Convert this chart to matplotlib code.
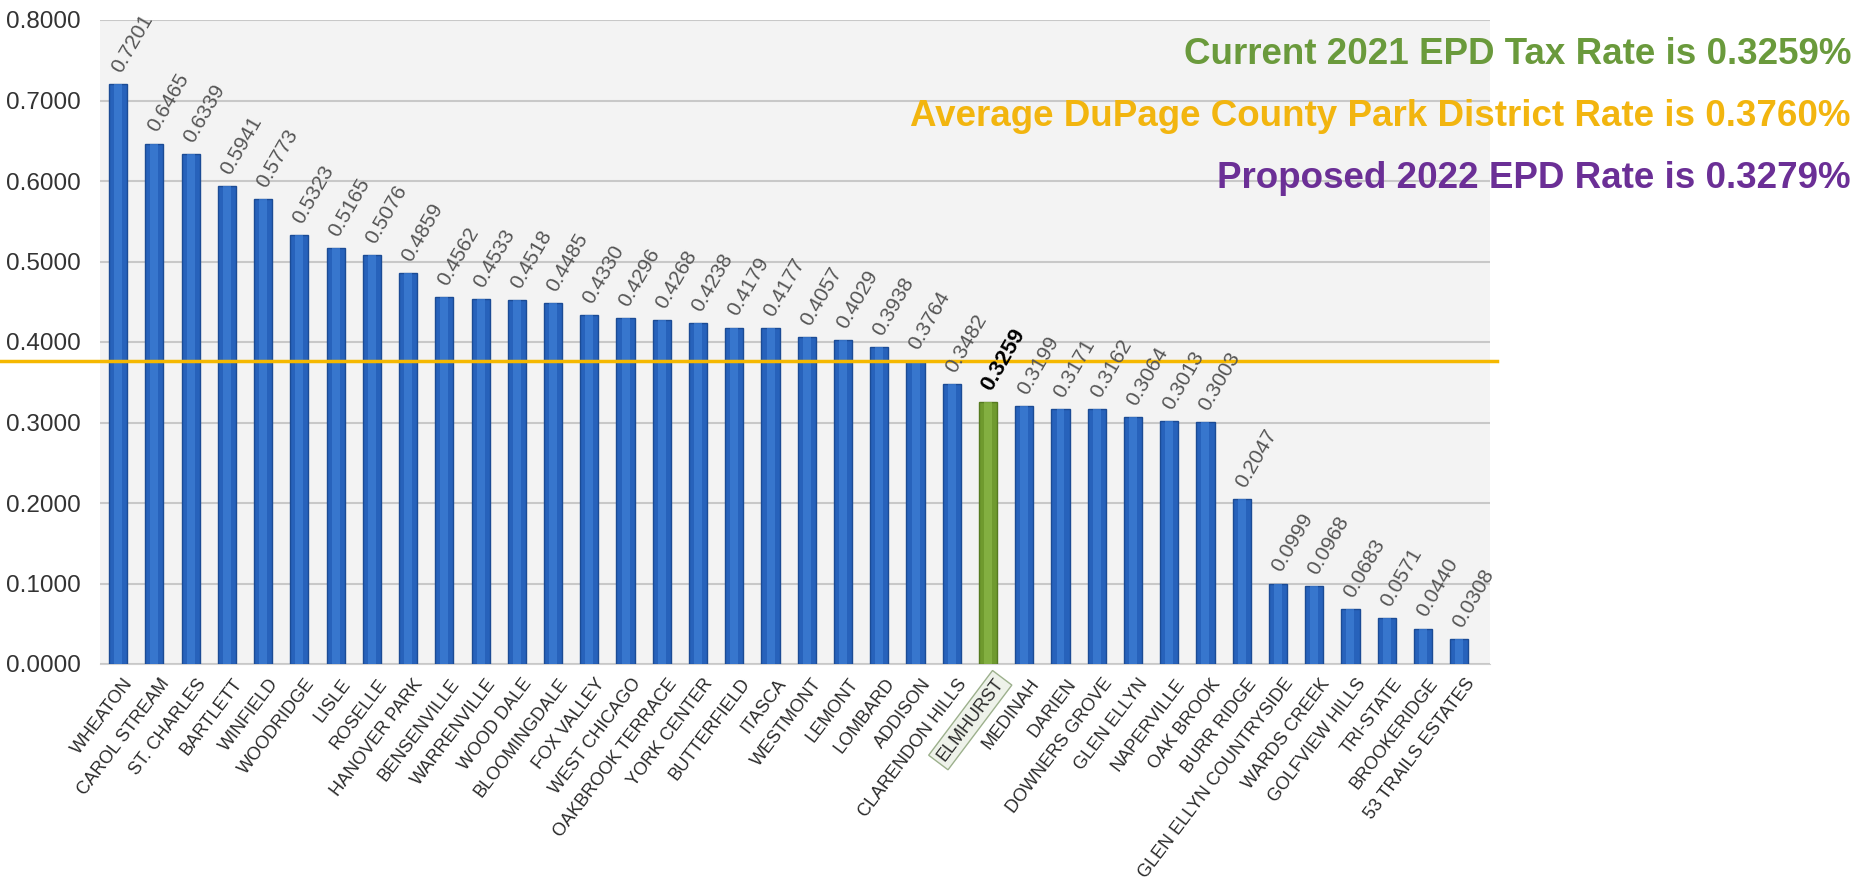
import matplotlib
matplotlib.use("Agg")
import matplotlib.pyplot as plt
import matplotlib.transforms as mtransforms

plt.rcParams['font.family'] = ['Liberation Sans', 'DejaVu Sans']

districts = ['WHEATON', 'CAROL STREAM', 'ST. CHARLES', 'BARTLETT', 'WINFIELD',
             'WOODRIDGE', 'LISLE', 'ROSELLE', 'HANOVER PARK', 'BENSENVILLE',
             'WARRENVILLE', 'WOOD DALE', 'BLOOMINGDALE', 'FOX VALLEY',
             'WEST CHICAGO', 'OAKBROOK TERRACE', 'YORK CENTER', 'BUTTERFIELD',
             'ITASCA', 'WESTMONT', 'LEMONT', 'LOMBARD', 'ADDISON',
             'CLARENDON HILLS', 'ELMHURST', 'MEDINAH', 'DARIEN', 'DOWNERS GROVE',
             'GLEN ELLYN', 'NAPERVILLE', 'OAK BROOK', 'BURR RIDGE',
             'GLEN ELLYN COUNTRYSIDE', 'WARDS CREEK', 'GOLFVIEW HILLS',
             'TRI-STATE', 'BROOKERIDGE', '53 TRAILS ESTATES']
rates = [0.7201, 0.6465, 0.6339, 0.5941, 0.5773, 0.5323, 0.5165, 0.5076,
         0.4859, 0.4562, 0.4533, 0.4518, 0.4485, 0.4330, 0.4296, 0.4268,
         0.4238, 0.4179, 0.4177, 0.4057, 0.4029, 0.3938, 0.3764, 0.3482,
         0.3259, 0.3199, 0.3171, 0.3162, 0.3064, 0.3013, 0.3003, 0.2047,
         0.0999, 0.0968, 0.0683, 0.0571, 0.0440, 0.0308]
highlight = 'ELMHURST'
county_avg = 0.3760
notes = ['Current 2021 EPD Tax Rate is 0.3259%',
         'Average DuPage County Park District Rate is 0.3760%',
         'Proposed 2022 EPD Rate is 0.3279%']
note_colors = ['#6a9a3c', '#f2b50f', '#6b2f96']

fig = plt.figure(figsize=(18.7, 8.9), dpi=100)
ax = fig.add_axes([100/1870, 226/890, 1390/1870, 644/890])
ax.set_facecolor('#f3f3f3')

x = list(range(len(districts)))
cols = ['#6f9a2e' if d == highlight else '#2762bb' for d in districts]
edges = ['#557a20' if d == highlight else '#1b4b95' for d in districts]
shine = ['#8cb84a' if d == highlight else '#3f7fd6' for d in districts]
ax.bar(x, rates, width=0.5, color=cols, edgecolor=edges, linewidth=1, zorder=3)
# lighter stripe down the middle to fake the rounded 3D look
ax.bar(x, rates, width=0.22, color=shine, linewidth=0, alpha=0.7, zorder=3)

for i, v in enumerate(rates):
    if districts[i] == highlight:
        ax.text(i - 0.05, v + 0.016, f'{v:.4f}', rotation=60, rotation_mode='anchor',
                ha='left', va='center', fontsize=16, fontweight='bold', color='black', zorder=5)
    else:
        ax.text(i - 0.05, v + 0.016, f'{v:.4f}', rotation=60, rotation_mode='anchor',
                ha='left', va='center', fontsize=15, color='#555555', zorder=5)

# county average line runs across the whole slide
ax.axhline(county_avg, xmin=-0.073, xmax=1.005, color='#f5b800', linewidth=2.5,
           clip_on=False, zorder=4)

ax.set_xlim(-0.5, len(districts) - 0.15)
ax.set_ylim(0, 0.8)
ax.set_yticks([i / 10 for i in range(9)])
ax.set_yticklabels([f'{i / 10:.4f}' for i in range(9)], fontsize=17.5, color='#333333')
ax.tick_params(axis='y', length=0, pad=14)
ax.yaxis.grid(True, color='#c8c8c8', linewidth=1.5, zorder=0)
ax.set_axisbelow(True)

ax.set_xticks(x)
ax.set_xticklabels(districts, fontsize=13, color='#2a2a2a')
ax.tick_params(axis='x', length=0, pad=12)
shift = mtransforms.ScaledTranslation(12/100, 0, fig.dpi_scale_trans)
for lab in ax.get_xticklabels():
    lab.set_rotation(53)
    lab.set_ha('right')
    lab.set_va('center')
    lab.set_rotation_mode('anchor')
    lab.set_transform(lab.get_transform() + shift)
    if lab.get_text() == highlight:
        lab.set_bbox(dict(boxstyle='square,pad=0.2', fc='#eef2ea', ec='#9cb08c'))

for s in ['top', 'left', 'right']:
    ax.spines[s].set_visible(False)
ax.spines['bottom'].set_color('#d0d0d0')

for k, txt in enumerate(notes):
    fig.text(1851/1870, 1 - (64 + 62*k)/890, txt, ha='right', va='baseline',
             fontsize=26.5, fontweight='bold', color=note_colors[k])

fig.savefig('out.png', dpi=100, facecolor='white')
